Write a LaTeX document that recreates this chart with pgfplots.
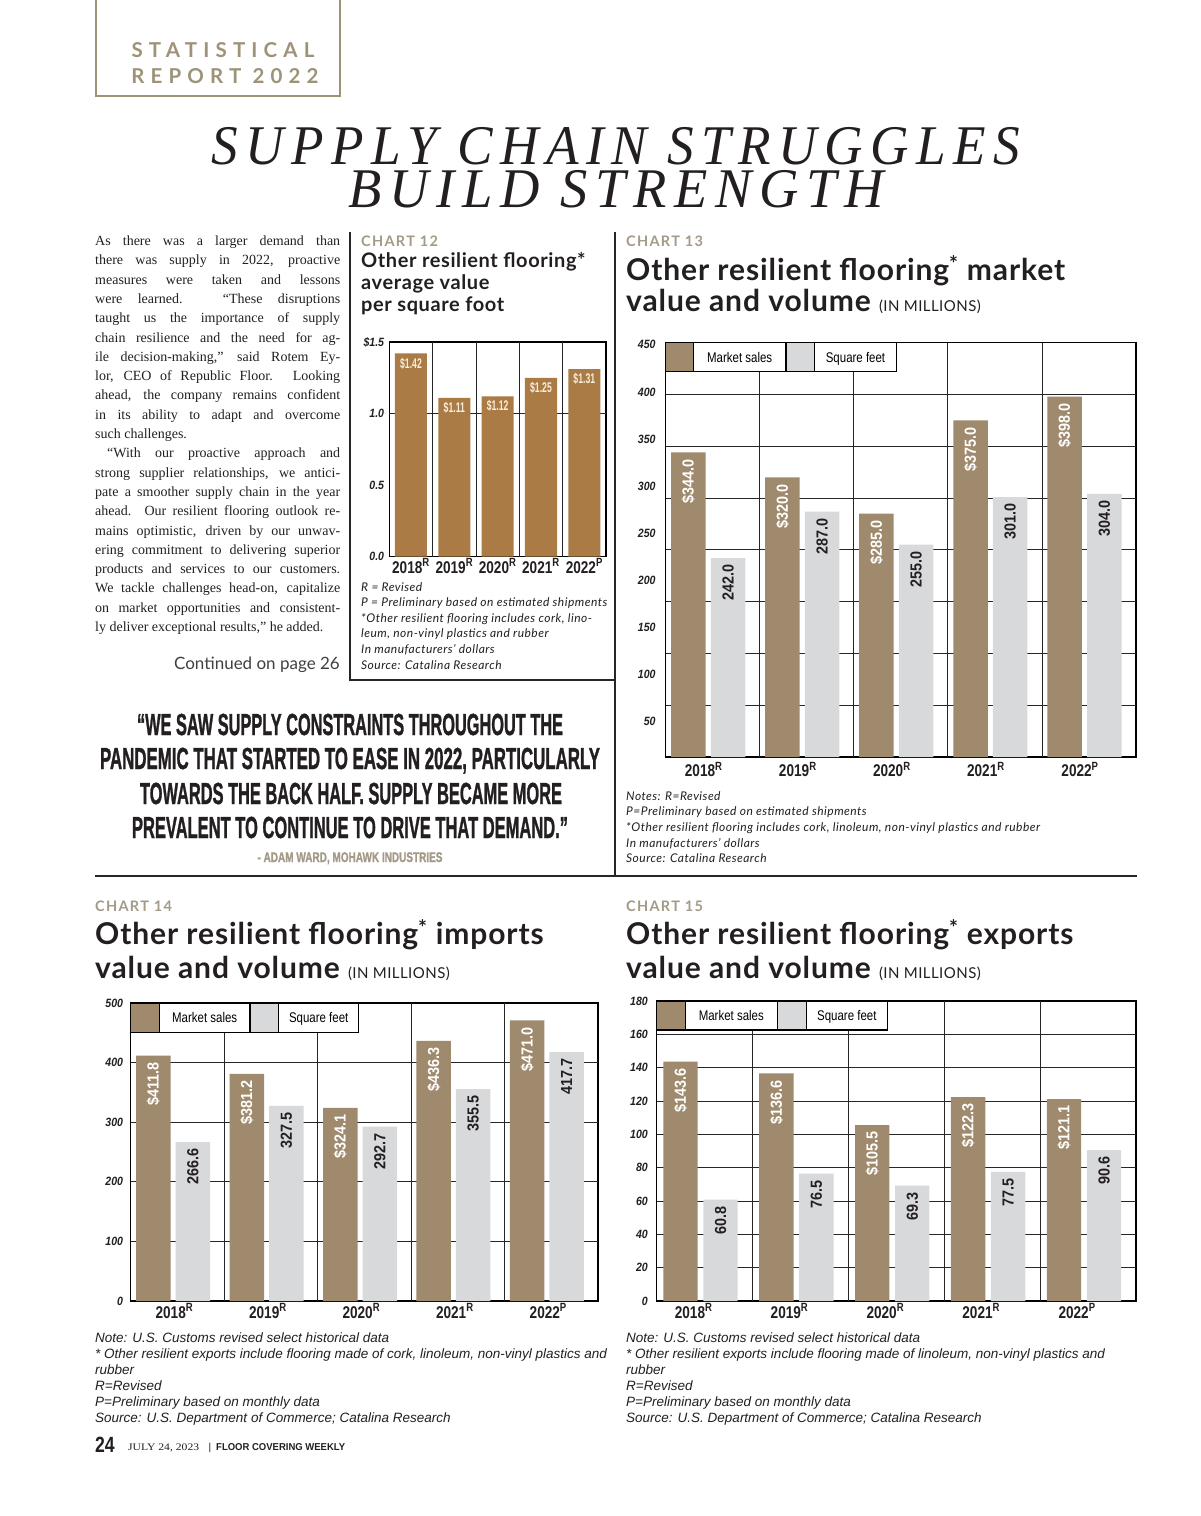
\documentclass[border=0pt]{standalone}
\usepackage{fontspec}
\usepackage{graphicx}
\usepackage{pgfplots}
\pgfplotsset{compat=1.18}

\setmainfont{Liberation Serif}
\newfontfamily\lato{Lato}
\newfontfamily\latotitle[LetterSpace=3]{Lato}
\newfontfamily\latospaced[LetterSpace=9]{Lato}
\newfontfamily\latowide[LetterSpace=30]{Lato}
\newfontfamily\notelato[LetterSpace=4]{Lato}
\newfontfamily\titleserif[LetterSpace=14]{Liberation Serif}
\newfontfamily\yearfam[FakeStretch=0.8]{Liberation Sans}
\newfontfamily\valfam[FakeStretch=0.9]{Liberation Sans}
\newfontfamily\tickfam[FakeStretch=0.88]{Liberation Sans}
\newfontfamily\legfam[FakeStretch=0.82]{Liberation Sans}
\newfontfamily\narrowfam[FakeStretch=0.62]{Liberation Sans}
\newfontfamily\quotefam[FakeBold=1.5]{Liberation Sans}
\newfontfamily\libsans{Liberation Sans}

\definecolor{sales}{HTML}{A08A6D}
\definecolor{sqft}{HTML}{D8D9DB}
\definecolor{copper}{HTML}{AB7B46}
\definecolor{cream}{HTML}{F8EEDC}
\definecolor{tan}{HTML}{A39B88}
\definecolor{boxtan}{HTML}{9D9379}
\definecolor{ink}{HTML}{231F20}

\newcommand\fs[2]{\fontsize{#1bp}{#2bp}\selectfont}
\newcommand\valfont{\valfam\bfseries\fs{16}{16}}
\newcommand\legfont{\legfam\fs{14}{14}}
\newcommand\bodyfont{\fs{14}{19.3}}
\newcommand\noteA{\notelato\itshape\fs{12}{12}}
\newcommand\noteB{\libsans\itshape\fs{13.5}{13.5}}

% one justified line of the text column
\newcommand\bl[2]{\node[anchor=base west,inner sep=0pt,font=\bodyfont,text=ink] at (95,{245.5+19.3*#1}) {\hbox to 245bp{#2}};}
\newcommand\blr[2]{\node[anchor=base west,inner sep=0pt,font=\bodyfont,text=ink] at (95,{245.5+19.3*#1}) {#2};}
% one line of notes
\newcommand\nl[4]{\node[anchor=base west,inner sep=0pt,font=#3,text=ink] at (#1,#2) {#4};}

\newcommand\legendrow[7]{%
  \draw[line width=1.3bp, fill=sales] (#1,#6) rectangle (#2,#7);
  \draw[line width=1.3bp, fill=white] (#2,#6) rectangle (#3,#7);
  \draw[line width=1.3bp, fill=sqft] (#3,#6) rectangle (#4,#7);
  \draw[line width=1.3bp, fill=white] (#4,#6) rectangle (#5,#7);
  \node[font=\legfont, inner sep=0pt, anchor=base] at ({(#2+#3)/2},{(#6+#7)/2+5}) {Market sales};
  \node[font=\legfont, inner sep=0pt, anchor=base] at ({(#4+#5)/2},{(#6+#7)/2+5}) {Square feet};
}

\pgfplotsset{
  fcw/.style={
    scale only axis, anchor=north west,
    xmin=-0.5, xmax=4.5, ybar,
    axis line style={black, line width=1.2bp},
    major tick length=0pt, minor tick length=0pt,
    /pgf/number format/assume math mode=true,
    xtick={0,1,2,3,4},
    xticklabels={2018\textsuperscript{R},2019\textsuperscript{R},2020\textsuperscript{R},2021\textsuperscript{R},2022\textsuperscript{P}},
    x tick label style={font=\yearfam\bfseries\fs{17}{17}, anchor=base, inner sep=0pt, text=ink},
    y tick label style={font=\tickfam\bfseries\itshape\fs{12}{12}, anchor=east, inner sep=0pt, text=ink},
    extra x ticks={0.5,1.5,2.5,3.5}, extra x tick labels={},
    extra x tick style={grid=major},
    extra y tick labels={},
    extra y tick style={grid=major},
    major grid style={black!85, line width=0.9bp},
  },
  salesbar/.style={fill=sales, draw=none, bar width=34.5bp, bar shift=#1,
    nodes near coords={\$\pgfmathprintnumber[fixed,fixed zerofill,precision=1]{\pgfplotspointmeta}},
    nodes near coords style={rotate=90, anchor=east, font=\valfont, text=white, inner xsep=6.5bp, inner ysep=0pt}},
  sqftbar/.style={fill=sqft, draw=none, bar width=34.5bp, bar shift=#1,
    nodes near coords={\pgfmathprintnumber[fixed,fixed zerofill,precision=1]{\pgfplotspointmeta}},
    nodes near coords style={rotate=90, anchor=east, font=\valfont, text=ink, inner xsep=6.5bp, inner ysep=0pt}},
}

\begin{document}
\begin{tikzpicture}[x=1bp, y=-1bp]
\useasboundingbox (0,0) rectangle (1200,1516);
\fill[white] (0,0) rectangle (1200,1516);

% header box
\draw[boxtan, line width=2bp] (96,-5) rectangle (340,96);
\node[font=\latowide\bfseries\fs{20.5}{20}, text=boxtan, inner sep=0pt, anchor=base] at (223,58) {STATISTICAL};
\node[font=\latowide\bfseries\fs{20.5}{20}, text=boxtan, inner sep=0pt, anchor=base] at (225,84) {REPORT 2022};

% headline, two lines in one box
\node[anchor=north, inner sep=0pt, text=ink] at (616,127) {\vbox{\baselineskip=43bp\lineskip=0pt
  \hbox to 808bp{\resizebox{808bp}{\height}{\titleserif\itshape\fs{56}{56}SUPPLY CHAIN STRUGGLES}}
  \hbox to 808bp{\hss\resizebox{535bp}{\height}{\titleserif\itshape\fs{56}{56}BUILD STRENGTH}\hss}}};

% text column
\bl{0}{As there was a larger demand than}
\bl{1}{there was supply in 2022, proactive}
\bl{2}{measures were taken and lessons}
\bl{3}{were learned. “These disruptions}
\bl{4}{taught us the importance of supply}
\bl{5}{chain resilience and the need for ag-}
\bl{6}{ile decision-making,” said Rotem Ey-}
\bl{7}{lor, CEO of Republic Floor. Looking}
\bl{8}{ahead, the company remains confident}
\bl{9}{in its ability to adapt and overcome}
\blr{10}{such challenges.}
\bl{11}{\hspace*{12bp}“With our proactive approach and}
\bl{12}{strong supplier relationships, we antici-}
\bl{13}{pate a smoother supply chain in the year}
\bl{14}{ahead. Our resilient flooring outlook re-}
\bl{15}{mains optimistic, driven by our unwav-}
\bl{16}{ering commitment to delivering superior}
\bl{17}{products and services to our customers.}
\bl{18}{We tackle challenges head-on, capitalize}
\bl{19}{on market opportunities and consistent-}
\blr{20}{ly deliver exceptional results,” he added.}
\node[anchor=base east, inner sep=0pt, font=\lato\fs{17}{17}, text=black!75] at (340,669) {Continued on page 26};

% rules
\draw[line width=1.2bp, black!85] (350,232) -- (350,680) -- (615,680);
\draw[line width=1.2bp, black!85] (615,232) -- (615,876);
\draw[line width=1.2bp, black!85] (95,876) -- (1137,876);

% quote
\node[anchor=base, inner sep=0pt, text=ink] at (350,735) {\resizebox{426bp}{\height}{\quotefam\bfseries\fs{30.5}{30}“WE SAW SUPPLY CONSTRAINTS THROUGHOUT THE}};
\node[anchor=base, inner sep=0pt, text=ink] at (350,769) {\resizebox{500bp}{\height}{\quotefam\bfseries\fs{30.5}{30}PANDEMIC THAT STARTED TO EASE IN 2022, PARTICULARLY}};
\node[anchor=base, inner sep=0pt, text=ink] at (351,804) {\resizebox{422bp}{\height}{\quotefam\bfseries\fs{30.5}{30}TOWARDS THE BACK HALF. SUPPLY BECAME MORE}};
\node[anchor=base, inner sep=0pt, text=ink] at (350,838) {\resizebox{436bp}{\height}{\quotefam\bfseries\fs{30.5}{30}PREVALENT TO CONTINUE TO DRIVE THAT DEMAND.”}};
\node[anchor=base, inner sep=0pt, text=tan] at (350,862) {\resizebox{185bp}{\height}{\quotefam\bfseries\fs{14}{14}- ADAM WARD, MOHAWK INDUSTRIES}};

% ---------- chart 12
\node[anchor=base west, inner sep=0pt, font=\latospaced\bfseries\fs{14.5}{14}, text=tan] at (361,246) {CHART 12};
\node[anchor=base west, inner sep=0pt, font=\latotitle\bfseries\fs{20}{20}, text=ink] at (361,267.7) {Other resilient flooring*};
\node[anchor=base west, inner sep=0pt, font=\latotitle\bfseries\fs{20}{20}, text=ink] at (361,289.3) {average value};
\node[anchor=base west, inner sep=0pt, font=\latotitle\bfseries\fs{20}{20}, text=ink] at (361,311) {per square foot};

\begin{axis}[fcw, at={(389.3bp,-342bp)}, width=216.7bp, height=214.7bp,
  ymin=0, ymax=1.5, ytick={0,0.5,1,1.5}, yticklabels={0.0,0.5,1.0,\$1.5},
  extra y ticks={1},
  y tick label style={xshift=-5bp}, x tick label style={yshift=-16.3bp}]
\addplot[fill=copper, draw=none, bar width=32bp, bar shift=0pt,
  nodes near coords={\$\pgfmathprintnumber[fixed,fixed zerofill,precision=2]{\pgfplotspointmeta}},
  nodes near coords style={anchor=north, font=\narrowfam\bfseries\fs{14}{14}, text=cream, inner ysep=4bp, inner xsep=0pt}]
  coordinates {(0,1.42) (1,1.11) (2,1.12) (3,1.25) (4,1.31)};
\end{axis}

\nl{361}{591}{\noteA}{R = Revised}
\nl{361}{606.6}{\noteA}{P = Preliminary based on estimated shipments}
\nl{361}{622.2}{\noteA}{*Other resilient flooring includes cork, lino-}
\nl{361}{637.8}{\noteA}{leum, non-vinyl plastics and rubber}
\nl{361}{653.4}{\noteA}{In manufacturers’ dollars}
\nl{361}{669}{\noteA}{Source: Catalina Research}

% ---------- chart 13
\node[anchor=base west, inner sep=0pt, font=\latospaced\bfseries\fs{14.5}{14}, text=tan] at (626,246) {CHART 13};
\node[anchor=base west, inner sep=0pt, font=\latotitle\bfseries\fs{30}{30}, text=ink] at (626,280) {Other resilient flooring\textsuperscript{*} market};
\node[anchor=base west, inner sep=0pt, font=\latotitle\bfseries\fs{30}{30}, text=ink] at (626,311.7) {value and volume {\latotitle\mdseries\fs{15}{15}(IN MILLIONS)}};

\begin{axis}[fcw, at={(665.7bp,-342.7bp)}, width=470.3bp, height=414.3bp,
  ymin=50, ymax=450,
  ytick={448,402.4,357,311.5,266,220.6,175.1,129.7,84.2},
  yticklabels={450,400,350,300,250,200,150,100,50},
  extra y ticks={100,150,200,250,300,350,400},
  y tick label style={xshift=-10bp}, x tick label style={yshift=-19.7bp, xshift=-9bp}]
\addplot[salesbar=-24.4bp] coordinates {(0,344) (1,320) (2,285) (3,375) (4,398)};
\addplot[sqftbar=15.3bp] coordinates {(0,242) (1,287) (2,255) (3,301) (4,304)};
\end{axis}
\legendrow{665.7}{693.3}{786}{814.3}{896.7}{342.7}{371.7}

\nl{626}{800}{\noteA}{Notes: R=Revised}
\nl{626}{815.7}{\noteA}{P=Preliminary based on estimated shipments}
\nl{626}{831.4}{\noteA}{*Other resilient flooring includes cork, linoleum, non-vinyl plastics and rubber}
\nl{626}{847}{\noteA}{In manufacturers’ dollars}
\nl{626}{862.7}{\noteA}{Source: Catalina Research}

% ---------- chart 14
\node[anchor=base west, inner sep=0pt, font=\latospaced\bfseries\fs{14.5}{14}, text=tan] at (95,911) {CHART 14};
\node[anchor=base west, inner sep=0pt, font=\latotitle\bfseries\fs{30}{30}, text=ink] at (95,944.3) {Other resilient flooring\textsuperscript{*} imports};
\node[anchor=base west, inner sep=0pt, font=\latotitle\bfseries\fs{30}{30}, text=ink] at (95,978.3) {value and volume {\latotitle\mdseries\fs{15}{15}(IN MILLIONS)}};

\begin{axis}[fcw, at={(130.7bp,-1003bp)}, width=467.3bp, height=298bp,
  ymin=0, ymax=500, ytick={0,100,200,300,400,500},
  extra y ticks={100,200,300,400},
  y tick label style={xshift=-7.5bp}, x tick label style={yshift=-17bp, xshift=-3bp}]
\addplot[salesbar=-24.1bp] coordinates {(0,411.8) (1,381.2) (2,324.1) (3,436.3) (4,471.0)};
\addplot[sqftbar=15.4bp] coordinates {(0,266.6) (1,327.5) (2,292.7) (3,355.5) (4,417.7)};
\end{axis}
\legendrow{130.7}{159.3}{250}{278.7}{358.7}{1003}{1032.3}

\nl{95}{1342}{\noteB}{Note: U.S. Customs revised select historical data}
\nl{95}{1358}{\noteB}{* Other resilient exports include flooring made of cork, linoleum, non-vinyl plastics and}
\nl{95}{1374}{\noteB}{rubber}
\nl{95}{1390}{\noteB}{R=Revised}
\nl{95}{1406}{\noteB}{P=Preliminary based on monthly data}
\nl{95}{1422}{\noteB}{Source: U.S. Department of Commerce; Catalina Research}

% ---------- chart 15
\node[anchor=base west, inner sep=0pt, font=\latospaced\bfseries\fs{14.5}{14}, text=tan] at (626,911) {CHART 15};
\node[anchor=base west, inner sep=0pt, font=\latotitle\bfseries\fs{30}{30}, text=ink] at (626,944.3) {Other resilient flooring\textsuperscript{*} exports};
\node[anchor=base west, inner sep=0pt, font=\latotitle\bfseries\fs{30}{30}, text=ink] at (626,978.3) {value and volume {\latotitle\mdseries\fs{15}{15}(IN MILLIONS)}};

\begin{axis}[fcw, at={(656.7bp,-1001bp)}, width=479.3bp, height=300bp,
  ymin=0, ymax=180, ytick={0,20,...,180},
  extra y ticks={20,40,60,80,100,120,140,160},
  y tick label style={xshift=-8.7bp}, x tick label style={yshift=-17bp, xshift=-11bp}]
\addplot[salesbar=-24.1bp, bar width=34.4bp] coordinates {(0,143.6) (1,136.6) (2,105.5) (3,122.3) (4,121.1)};
\addplot[sqftbar=15.9bp, bar width=34.4bp] coordinates {(0,60.8) (1,76.5) (2,69.3) (3,77.5) (4,90.6)};
\end{axis}
\legendrow{656.7}{685.3}{777.3}{806.3}{887.3}{1001}{1030}

\nl{626}{1342}{\noteB}{Note: U.S. Customs revised select historical data}
\nl{626}{1358}{\noteB}{* Other resilient exports include flooring made of linoleum, non-vinyl plastics and}
\nl{626}{1374}{\noteB}{rubber}
\nl{626}{1390}{\noteB}{R=Revised}
\nl{626}{1406}{\noteB}{P=Preliminary based on monthly data}
\nl{626}{1422}{\noteB}{Source: U.S. Department of Commerce; Catalina Research}

% footer
\node[anchor=base west, inner sep=0pt, text=ink] at (95,1452) {\yearfam\bfseries\fs{22}{22}24};
\node[anchor=base west, inner sep=0pt, text=ink] at (128,1450) {\resizebox{71bp}{\height}{\fs{10}{10}JULY 24, 2023}};
\node[anchor=base, inner sep=0pt, text=ink] at (210,1450) {\libsans\fs{10}{10}|};
\node[anchor=base west, inner sep=0pt, text=ink] at (216,1450) {\resizebox{129bp}{\height}{\libsans\bfseries\fs{10}{10}FLOOR COVERING WEEKLY}};
\end{tikzpicture}
\end{document}
